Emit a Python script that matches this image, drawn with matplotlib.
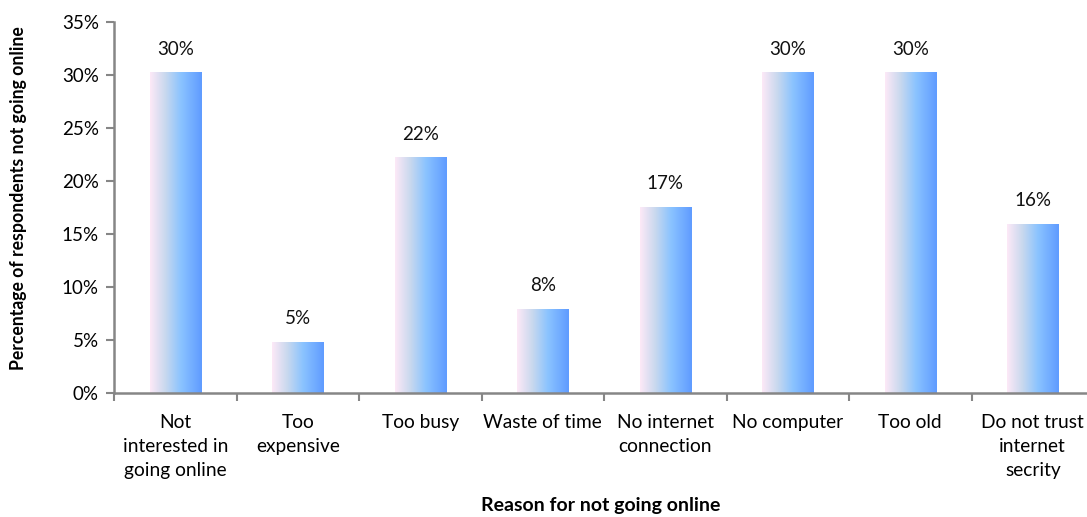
import matplotlib
matplotlib.use("Agg")
import matplotlib.pyplot as plt
import numpy as np
from matplotlib.colors import LinearSegmentedColormap
from matplotlib.ticker import FixedLocator, PercentFormatter

plt.rcParams['font.family'] = ['Lato', 'DejaVu Sans']

categories = ["Not\ninterested in\ngoing online", "Too\nexpensive", "Too busy",
              "Waste of time", "No internet\nconnection", "No computer",
              "Too old", "Do not trust\ninternet\nsecrity"]
values = [30.2, 4.8, 22.2, 7.9, 17.5, 30.2, 30.2, 15.9]
labels = ["30%", "5%", "22%", "8%", "17%", "30%", "30%", "16%"]

fig = plt.figure(figsize=(10.87, 5.17), dpi=100)
ax = fig.add_axes([114/1087, 1-393/517, (1094-114)/1087, (393-22)/517])

cmap = LinearSegmentedColormap.from_list(
    "grad", [(0.0, "#FDE9F7"), (0.3, "#C8D8EE"), (0.6, "#8AC3FF"), (1.0, "#5F9BFF")])
grad = np.linspace(0, 1, 256).reshape(1, -1)

x = np.arange(len(categories))
bars = ax.bar(x, values, width=0.42, color="none", edgecolor="none", zorder=2)
for b in bars:
    x0, w, h = b.get_x(), b.get_width(), b.get_height()
    ax.imshow(grad, cmap=cmap, aspect="auto", extent=[x0, x0 + w, 0, h],
              zorder=2, interpolation="bicubic")

for xi, v, lab in zip(x, values, labels):
    ax.annotate(lab, (xi, v), xytext=(0, 17), textcoords="offset points",
                ha="center", va="center", fontsize=13.5, color="#111111")

ax.set_xlim(-0.5, len(categories) - 0.5)
ax.set_ylim(0, 35)
ax.yaxis.set_major_locator(FixedLocator(np.arange(0, 36, 5)))
ax.yaxis.set_major_formatter(PercentFormatter(decimals=0))

ax.xaxis.set_major_locator(FixedLocator(np.arange(-0.5, len(categories), 1.0)))
ax.xaxis.set_major_formatter(plt.NullFormatter())
ax.xaxis.set_minor_locator(FixedLocator(x))
ax.set_xticklabels(categories, minor=True, linespacing=1.52)
ax.tick_params(axis="x", which="minor", length=0, pad=15, labelsize=13.8)
ax.tick_params(axis="x", which="major", length=6, width=1.5, color="#868686", direction="out")
ax.tick_params(axis="y", length=6, width=1.5, color="#868686", direction="out",
               labelsize=13.5, pad=5)

for s in ["top", "right"]:
    ax.spines[s].set_visible(False)
for s in ["left", "bottom"]:
    ax.spines[s].set_color("#868686")
    ax.spines[s].set_linewidth(1.8)

fig.text(19 / 1087, 1 - 198 / 517, "Percentage of respondents not going online",
         rotation=90, ha="center", va="center", fontsize=12.7, fontweight="bold")
fig.text((114 + 980 / 2 - 3) / 1087, 1 - 506 / 517, "Reason for not going online",
         ha="center", va="center", fontsize=14, fontweight="bold")

fig.savefig("out.png", dpi=100)
